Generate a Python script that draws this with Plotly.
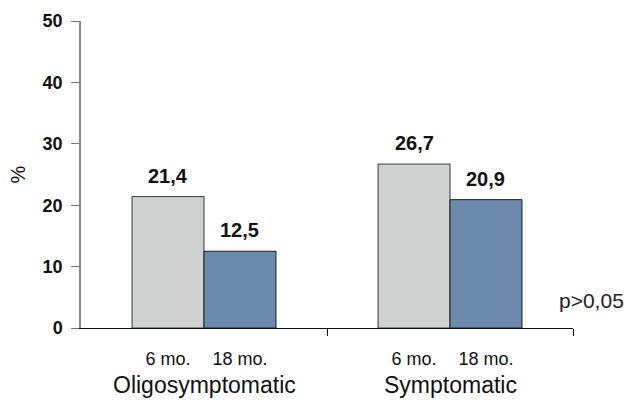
import plotly.graph_objects as go

groups = ["Oligosymptomatic", "Symptomatic"]
periods = ["6 mo.", "18 mo."]
values_6mo = [21.4, 26.7]
values_18mo = [12.5, 20.9]
y_ticks = [0, 10, 20, 30, 40, 50]
p_note = "p>0,05"

FONT = "Liberation Sans, Arial, sans-serif"
BARGAP = 0.415
bar_w = (1 - BARGAP) / 2

def fmt(v):
    return f"{v:.1f}".replace(".", ",")

xs = list(range(len(groups)))

fig = go.Figure()
fig.add_trace(go.Bar(
    x=xs, y=values_6mo, name=periods[0],
    marker=dict(color="#cfd0d0", line=dict(color="#3a3a3a", width=1)),
))
fig.add_trace(go.Bar(
    x=xs, y=values_18mo, name=periods[1],
    marker=dict(color="#6d89ab", line=dict(color="#1a1a2a", width=1)),
))

# value labels above bars
for series, sign in ((values_6mo, -1), (values_18mo, 1)):
    for i, v in zip(xs, series):
        fig.add_annotation(x=i + sign * bar_w / 2, y=v, xref="x", yref="y",
                           text=f"<b>{fmt(v)}</b>", showarrow=False,
                           yanchor="bottom", yshift=8,
                           font=dict(family=FONT, size=20, color="#111"))

# sub-labels under each bar
tickvals, ticktext = [], []
for i in xs:
    tickvals += [i - bar_w / 2, i + bar_w / 2]
    ticktext += periods

for i, g in enumerate(groups):
    fig.add_annotation(x=i, y=0, xref="x", yref="y", yshift=-57, text=g,
                       showarrow=False, yanchor="middle",
                       font=dict(family=FONT, size=23, color="#111"))

fig.add_annotation(x=1, y=0, xref="paper", yref="y", text=p_note, showarrow=False,
                   xanchor="center", yanchor="bottom", xshift=18, yshift=14,
                   font=dict(family=FONT, size=21, color="#222"))

fig.update_layout(
    width=627, height=402,
    margin=dict(l=81, r=54, t=21, b=74),
    paper_bgcolor="white", plot_bgcolor="white",
    barmode="group", bargap=BARGAP, bargroupgap=0,
    showlegend=False,
    font=dict(family=FONT, color="#111"),
)

fig.update_xaxes(
    range=[-0.5, len(groups) - 0.5],
    tickvals=tickvals, ticktext=ticktext, ticks="outside", ticklen=14,
    tickcolor="rgba(0,0,0,0)",
    tickfont=dict(family=FONT, size=18, color="#111"),
    showline=True, linecolor="#111", linewidth=1.2,
    showgrid=False, zeroline=False,
    minor=dict(tickvals=[i + 0.5 for i in xs], ticks="outside", ticklen=7,
               tickcolor="#111", tickwidth=1, showgrid=False),
)
fig.update_yaxes(
    range=[0, 50], tickvals=y_ticks, ticks="outside", ticklen=8,
    tickcolor="#777", tickwidth=1, ticklabelstandoff=5,
    tickfont=dict(family=FONT, size=18, color="#111", weight="bold"),
    showline=True, linecolor="#888", linewidth=1.5,
    showgrid=False, zeroline=False,
    title=dict(text="%", font=dict(family=FONT, size=20, color="#111"), standoff=12),
)

fig.write_html("out.html", config={"displayModeBar": False},
               post_script="document.body.style.margin='0';")
